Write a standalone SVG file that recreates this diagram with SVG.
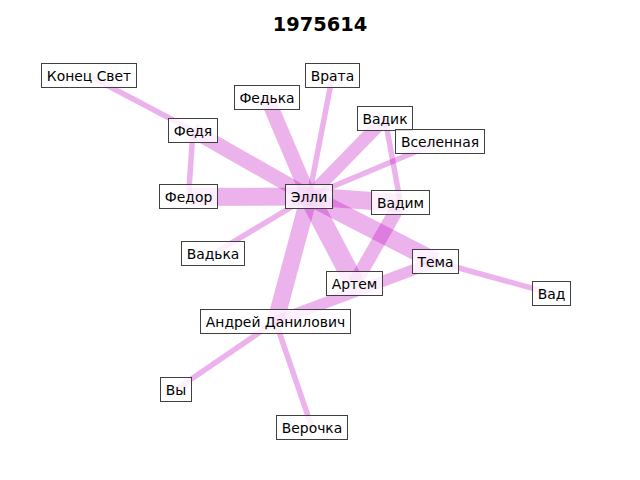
<svg xmlns="http://www.w3.org/2000/svg" width="640" height="480" viewBox="0 0 640 480">
<style>
.e{stroke:#bf00bf;stroke-opacity:0.3;stroke-linecap:butt;fill:none}
.b{fill:#ffffff;fill-opacity:0.8;stroke:#404040;stroke-width:1}
.t{font-family:"DejaVu Sans",sans-serif;font-size:13.9px;fill:#000;text-anchor:middle}
.title{font-family:"DejaVu Sans",sans-serif;font-size:19.4px;font-weight:bold;text-anchor:middle}
</style>
<rect width="640" height="480" fill="#fff"/>
<text class="title" x="320" y="31">1975614</text>
<g id="edges">
<line class="e" x1="88.5" y1="75.5" x2="193" y2="130.5" stroke-width="5.5"/>
<line class="e" x1="193" y1="130.5" x2="309" y2="196.5" stroke-width="15"/>
<line class="e" x1="193" y1="130.5" x2="188.5" y2="196.5" stroke-width="5.5"/>
<line class="e" x1="188.5" y1="197" x2="309" y2="196.5" stroke-width="18"/>
<line class="e" x1="267" y1="97.5" x2="309" y2="196.5" stroke-width="15"/>
<line class="e" x1="332.5" y1="75.5" x2="309" y2="196.5" stroke-width="5.5"/>
<line class="e" x1="385" y1="118.5" x2="309" y2="196.5" stroke-width="13"/>
<line class="e" x1="440" y1="141.5" x2="309" y2="196.5" stroke-width="5.5"/>
<line class="e" x1="385" y1="118.5" x2="400.5" y2="203" stroke-width="5.5"/>
<line class="e" x1="309" y1="196.5" x2="400.5" y2="203" stroke-width="18"/>
<line class="e" x1="309" y1="196.5" x2="435.5" y2="261.5" stroke-width="18"/>
<line class="e" x1="309" y1="196.5" x2="354.5" y2="283.5" stroke-width="20"/>
<line class="e" x1="400.5" y1="203" x2="354.5" y2="283.5" stroke-width="14"/>
<line class="e" x1="275.5" y1="321.5" x2="435.5" y2="261.5" stroke-width="11"/>
<line class="e" x1="309" y1="196.5" x2="275.5" y2="321.5" stroke-width="17"/>
<line class="e" x1="213" y1="254" x2="309" y2="196.5" stroke-width="5.5"/>
<line class="e" x1="435.5" y1="261.5" x2="551.5" y2="293.5" stroke-width="5.5"/>
<line class="e" x1="275.5" y1="321.5" x2="176" y2="389.5" stroke-width="5.5"/>
<line class="e" x1="275.5" y1="321.5" x2="312" y2="427.5" stroke-width="5.5"/>
</g>
<g id="n-konec"><rect class="b" x="41.5" y="63.5" width="95" height="24"/><text class="t" x="89" y="80.5">Конец Свет</text></g>
<g id="n-fedya"><rect class="b" x="168.5" y="118.5" width="49" height="24"/><text class="t" x="193" y="135.5">Федя</text></g>
<g id="n-fedor"><rect class="b" x="159.5" y="184.5" width="58" height="24"/><text class="t" x="188.5" y="201.5">Федор</text></g>
<g id="n-fedka"><rect class="b" x="234.5" y="85.5" width="65" height="24"/><text class="t" x="267" y="102.5">Федька</text></g>
<g id="n-vrata"><rect class="b" x="305.5" y="63.5" width="54" height="24"/><text class="t" x="332.5" y="80.5">Врата</text></g>
<g id="n-vadik"><rect class="b" x="357.5" y="106.5" width="55" height="24"/><text class="t" x="385" y="123.5">Вадик</text></g>
<g id="n-vselennaya"><rect class="b" x="395.5" y="129.5" width="89" height="24"/><text class="t" x="440" y="146.5">Вселенная</text></g>
<g id="n-elli"><rect class="b" x="285.5" y="184.5" width="47" height="24"/><text class="t" x="309" y="201.5">Элли</text></g>
<g id="n-vadim"><rect class="b" x="371.5" y="190.5" width="58" height="24"/><text class="t" x="400.5" y="207.5">Вадим</text></g>
<g id="n-vadka"><rect class="b" x="181.5" y="241.5" width="63" height="24"/><text class="t" x="213" y="258.5">Вадька</text></g>
<g id="n-tema"><rect class="b" x="412.5" y="249.5" width="46" height="24"/><text class="t" x="435.5" y="266.5">Тема</text></g>
<g id="n-vad"><rect class="b" x="532.5" y="281.5" width="38" height="24"/><text class="t" x="551.5" y="298.5">Вад</text></g>
<g id="n-artem"><rect class="b" x="326.5" y="271.5" width="56" height="24"/><text class="t" x="354.5" y="288.5">Артем</text></g>
<g id="n-andrey"><rect class="b" x="200.5" y="309.5" width="150" height="24"/><text class="t" x="275.5" y="326.5">Андрей Данилович</text></g>
<g id="n-vy"><rect class="b" x="160.5" y="377.5" width="31" height="24"/><text class="t" x="176" y="394.5">Вы</text></g>
<g id="n-verochka"><rect class="b" x="276.5" y="415.5" width="71" height="24"/><text class="t" x="312" y="432.5">Верочка</text></g>
</svg>
